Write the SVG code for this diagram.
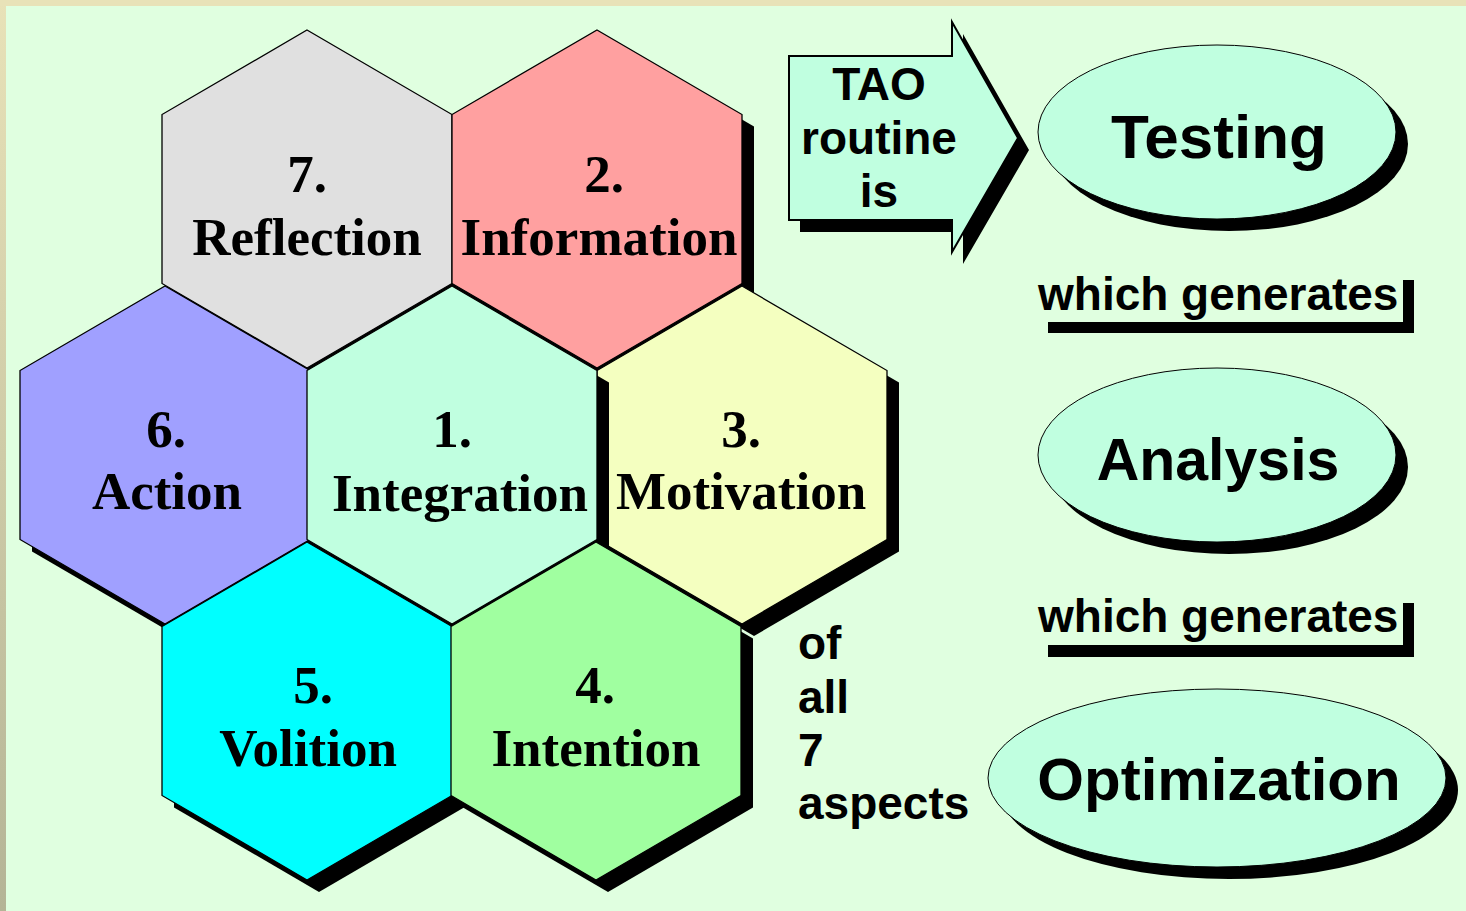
<svg xmlns="http://www.w3.org/2000/svg" width="1466" height="911" viewBox="0 0 1466 911">
<defs>
<linearGradient id="frame" x1="0" y1="0" x2="0" y2="1">
<stop offset="0" stop-color="#e8e2b8"/>
<stop offset="1" stop-color="#b4b496"/>
</linearGradient>
<polygon id="hex" points="0,-169 145,-84.5 145,84.5 0,169 -145,84.5 -145,-84.5"/>
<polygon id="arrow" points="789,56 952,56 952,22 1018,138 952,252 952,220 789,220"/>
</defs>
<style>
.hx{stroke:#000;stroke-width:1.3;stroke-linejoin:miter}
.sh{fill:#000}
.ht{font-family:"Liberation Serif","Times New Roman",serif;font-weight:bold;font-size:53px;fill:#000;text-anchor:middle}
.st{font-family:"Liberation Sans",Arial,sans-serif;font-weight:bold;fill:#000}
.el{fill:#c0ffe0;stroke:#000;stroke-width:1}
</style>
<rect x="0" y="0" width="1466" height="911" fill="url(#frame)"/>
<rect x="0" y="0" width="1466" height="6" fill="#e8e2b8"/>
<rect x="6" y="6" width="1460" height="905" fill="#e0ffe0"/>

<g id="hex7">
<use href="#hex" class="sh" transform="translate(319,211)"/>
<use href="#hex" class="hx" fill="#e0e0e0" transform="translate(307,199)"/>
<text class="ht" x="307" y="192">7.</text>
<text class="ht" x="307" y="255">Reflection</text>
</g>
<g id="hex2">
<use href="#hex" class="sh" transform="translate(609,211)"/>
<use href="#hex" class="hx" fill="#ffa0a0" transform="translate(597,199)"/>
<text class="ht" x="604" y="192">2.</text>
<text class="ht" x="599" y="255">Information</text>
</g>
<g id="hex6">
<use href="#hex" class="sh" transform="translate(177,467)"/>
<use href="#hex" class="hx" fill="#a0a0ff" transform="translate(165,455)"/>
<text class="ht" x="166" y="447">6.</text>
<text class="ht" x="167" y="509">Action</text>
</g>
<g id="hex3">
<use href="#hex" class="sh" transform="translate(754,467)"/>
<use href="#hex" class="hx" fill="#f4ffc0" transform="translate(742,455)"/>
<text class="ht" x="741" y="447">3.</text>
<text class="ht" x="741" y="509">Motivation</text>
</g>
<g id="hex1">
<use href="#hex" class="sh" transform="translate(464,467)"/>
<use href="#hex" class="hx" fill="#c0ffe0" transform="translate(452,455)"/>
<text class="ht" x="452" y="447">1.</text>
<text class="ht" x="460" y="511">Integration</text>
</g>
<g id="hex5">
<use href="#hex" class="sh" transform="translate(319,723)"/>
<use href="#hex" class="hx" fill="#00ffff" transform="translate(307,711)"/>
<text class="ht" x="313" y="703">5.</text>
<text class="ht" x="308" y="766">Volition</text>
</g>
<g id="hex4">
<use href="#hex" class="sh" transform="translate(608,723)"/>
<use href="#hex" class="hx" fill="#a0ffa0" transform="translate(596,711)"/>
<text class="ht" x="595" y="703">4.</text>
<text class="ht" x="596" y="766">Intention</text>
</g>

<g id="tao-arrow">
<use href="#arrow" class="sh" transform="translate(11,12)"/>
<use href="#arrow" fill="#c0ffe0" stroke="#000" stroke-width="2"/>
<text class="st" font-size="46" text-anchor="middle" x="879" y="100">TAO</text>
<text class="st" font-size="46" text-anchor="middle" x="879" y="154">routine</text>
<text class="st" font-size="46" text-anchor="middle" x="879" y="207">is</text>
</g>

<g id="testing">
<ellipse cx="1229" cy="144" rx="179" ry="87" fill="#000"/>
<ellipse class="el" cx="1217" cy="132" rx="179" ry="87"/>
<text class="st" font-size="62" text-anchor="middle" x="1219" y="158">Testing</text>
</g>
<g id="gen1">
<rect x="1048" y="322" width="366" height="11" fill="#000"/>
<rect x="1403" y="280" width="11" height="53" fill="#000"/>
<text class="st" font-size="46" x="1038" y="310">which generates</text>
</g>
<g id="analysis">
<ellipse cx="1229" cy="467" rx="179" ry="87" fill="#000"/>
<ellipse class="el" cx="1217" cy="455" rx="179" ry="87"/>
<text class="st" font-size="59" text-anchor="middle" x="1218" y="480">Analysis</text>
</g>
<g id="gen2">
<rect x="1048" y="645" width="366" height="12" fill="#000"/>
<rect x="1403" y="603" width="11" height="54" fill="#000"/>
<text class="st" font-size="46" x="1038" y="632">which generates</text>
</g>
<g id="optimization">
<ellipse cx="1229" cy="790" rx="229" ry="89" fill="#000"/>
<ellipse class="el" cx="1217" cy="778" rx="229" ry="89"/>
<text class="st" font-size="60" text-anchor="middle" x="1219" y="800">Optimization</text>
</g>
<g id="aspects">
<text class="st" font-size="46" x="798" y="659">of</text>
<text class="st" font-size="46" x="798" y="713">all</text>
<text class="st" font-size="46" x="798" y="766">7</text>
<text class="st" font-size="46" x="798" y="819">aspects</text>
</g>
</svg>
